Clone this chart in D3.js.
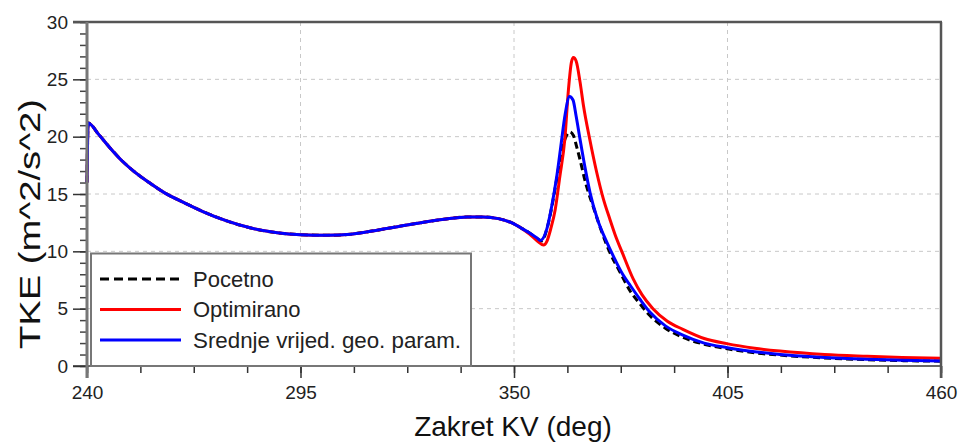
<!DOCTYPE html>
<html><head><meta charset="utf-8">
<script src="https://cdn.jsdelivr.net/npm/d3@7"></script>
<style>body{margin:0;background:#fff}svg{display:block;font-family:"Liberation Sans",Arial,sans-serif}</style>
</head><body><svg id="c" width="960" height="442"></svg>
<script>
// shared part (all three curves coincide before ~350 deg)
const sharedDeg = [240,240.3,243,246,249,252,256,260,265,270,276,282,289,295,302,308,314,320,326,332,338,342,346,350];
const sharedVal = [16.0,21.2,20.2,19.0,17.9,17.0,16.0,15.1,14.25,13.45,12.65,12.05,11.62,11.45,11.4,11.5,11.8,12.15,12.5,12.8,13.0,13.0,12.85,12.4];

const pocetnoDeg = [352,354,356,357.2,358.5,359.7,361,362.3,363.4,364.4,365.3,366,367,368.5,370.4,372.5,374.7,377.3,380,382.5,385,389,393.5,399,405,412,418.5,430,441,450,460];
const pocetnoVal = [12.0,11.6,11.1,10.9,12.0,13.8,16.3,18.8,20.0,20.4,20.1,19.3,18.0,15.9,13.9,11.8,9.9,8.2,6.5,5.4,4.4,3.3,2.5,1.9,1.5,1.15,0.95,0.7,0.55,0.47,0.42];

const optimiranoDeg = [352,354,356,357.6,358.5,359.5,360.6,361.8,363.1,364,364.8,365.3,366,367,367.9,369.5,371.3,373,374.7,376,378,380.7,383,385.8,389.5,393.5,399,404.8,412,418.5,430,441,450,460];
const optimiranoVal = [12.0,11.5,10.9,10.55,10.9,12.0,13.6,16.5,19.8,24.0,26.5,26.9,26.6,24.8,22.7,19.8,16.9,14.6,12.8,11.5,9.8,7.6,6.2,5.0,3.9,3.2,2.4,1.95,1.55,1.3,1.0,0.85,0.75,0.67];

const srednjeDeg = [352,354,356,356.8,358.5,359.7,361,362,363.2,364.3,365.2,366,367,368.3,369.6,371.5,373.9,376,378,380,382.5,385,389,393.5,399,405,412,418.5,430,441,450,460];
const srednjeVal = [12.0,11.6,11.15,10.95,12.0,13.9,16.5,19.0,22.0,23.5,23.2,21.8,19.8,17.3,15.1,12.8,10.8,9.3,8.0,7.0,5.8,4.7,3.5,2.7,2.0,1.6,1.25,1.0,0.75,0.58,0.5,0.44];

const seriesNames = ["Pocetno","Optimirano","Srednje vrijed. geo. param."];
const seriesColors = ["#000000","#ff0000","#0000ff"];
const xTicks = [240,295,350,405,460];
const yTicks = [0,5,10,15,20,25,30];

const build = (d,v) => sharedDeg.map((x,i)=>[x,sharedVal[i]]).concat(d.map((x,i)=>[x,v[i]]));
const series = [build(pocetnoDeg,pocetnoVal), build(optimiranoDeg,optimiranoVal), build(srednjeDeg,srednjeVal)];

const svg = d3.select("#c");
const L=87,R=941,T=22,B=366;
const x = d3.scaleLinear().domain([240,460]).range([L,R]);
const y = d3.scaleLinear().domain([0,30]).range([B,T]);

// grid
svg.append("g").selectAll("line").data(yTicks.filter(v=>v>0&&v<30)).join("line")
  .attr("x1",L).attr("x2",R).attr("y1",d=>y(d)).attr("y2",d=>y(d))
  .attr("stroke","#c8c8c8").attr("stroke-width",1).attr("stroke-dasharray","4,4");
svg.append("g").selectAll("line").data(xTicks.filter(v=>v>240&&v<460)).join("line")
  .attr("x1",d=>x(d)).attr("x2",d=>x(d)).attr("y1",T).attr("y2",B)
  .attr("stroke","#c8c8c8").attr("stroke-width",1).attr("stroke-dasharray","4,4");

// lines
const line = d3.line().x(d=>x(d[0])).y(d=>y(d[1])).curve(d3.curveMonotoneX);
series.forEach((s,i)=>{
  svg.append("path").datum(s).attr("d",line).attr("fill","none")
    .attr("stroke",seriesColors[i]).attr("stroke-width",3)
    .attr("stroke-dasharray", i===0 ? "7,4" : null);
});

// axes
const minorX = d3.range(240,460.01,13.75);
const minorY = d3.range(0,30.01,1);
svg.append("g").attr("transform",`translate(0,${B})`)
  .call(d3.axisBottom(x).tickValues(minorX).tickSize(7).tickFormat(""))
  .call(g=>{g.select(".domain").remove();g.selectAll("line").attr("stroke","#333").attr("stroke-width",1.5);});
const gx = svg.append("g").attr("transform",`translate(0,${B})`)
  .call(d3.axisBottom(x).tickValues(xTicks).tickSize(12).tickPadding(8).tickFormat(d3.format("d")));
gx.select(".domain").remove();
gx.selectAll("line").attr("stroke","#333").attr("stroke-width",1.5);
gx.selectAll("text").attr("font-size",19).attr("fill","#222").attr("font-family","Liberation Sans, Arial");

svg.append("g").attr("transform",`translate(${L},0)`)
  .call(d3.axisLeft(y).tickValues(minorY).tickSize(7).tickFormat(""))
  .call(g=>{g.select(".domain").remove();g.selectAll("line").attr("stroke","#444").attr("stroke-width",1.5);});
const gy = svg.append("g").attr("transform",`translate(${L},0)`)
  .call(d3.axisLeft(y).tickValues(yTicks).tickSize(14).tickPadding(5));
gy.select(".domain").remove();
gy.selectAll("line").attr("stroke","#333").attr("stroke-width",1.5);
gy.selectAll("text").attr("font-size",19).attr("fill","#222").attr("font-family","Liberation Sans, Arial");

// frame
svg.append("line").attr("x1",73).attr("x2",R).attr("y1",B).attr("y2",B).attr("stroke","#333").attr("stroke-width",1.5);
svg.append("line").attr("x1",73).attr("x2",R+1).attr("y1",T).attr("y2",T).attr("stroke","#555").attr("stroke-width",2.5);
svg.append("line").attr("x1",R).attr("x2",R).attr("y1",T).attr("y2",378).attr("stroke","#555").attr("stroke-width",2.5);
svg.append("line").attr("x1",L).attr("x2",L).attr("y1",T).attr("y2",378).attr("stroke","#777").attr("stroke-width",3);

// legend
const lg = svg.append("g");
lg.append("rect").attr("x",91).attr("y",253.5).attr("width",380).attr("height",B-253.5)
  .attr("fill","#fff").attr("stroke","#777").attr("stroke-width",2);
const ly = [279,309.5,340];
seriesNames.forEach((n,i)=>{
  lg.append("line").attr("x1",100).attr("x2",181).attr("y1",ly[i]).attr("y2",ly[i])
    .attr("stroke",seriesColors[i]).attr("stroke-width",3).attr("stroke-dasharray",i===0?"9,5":null);
  lg.append("text").attr("x",193).attr("y",ly[i]+7.5).attr("font-size",22).attr("fill","#222")
    .attr("textLength", i===2 ? 268 : null).attr("lengthAdjust","spacingAndGlyphs").text(n);
});

// axis titles
svg.append("text").attr("x",513).attr("y",436).attr("text-anchor","middle")
  .attr("font-size",28).attr("fill","#111").text("Zakret KV (deg)");
svg.append("text").attr("transform","translate(40,224) rotate(-90)").attr("text-anchor","middle")
  .attr("font-size",29).attr("fill","#111").attr("textLength",250).attr("lengthAdjust","spacingAndGlyphs")
  .text("TKE (m^2/s^2)");
</script></body></html>
